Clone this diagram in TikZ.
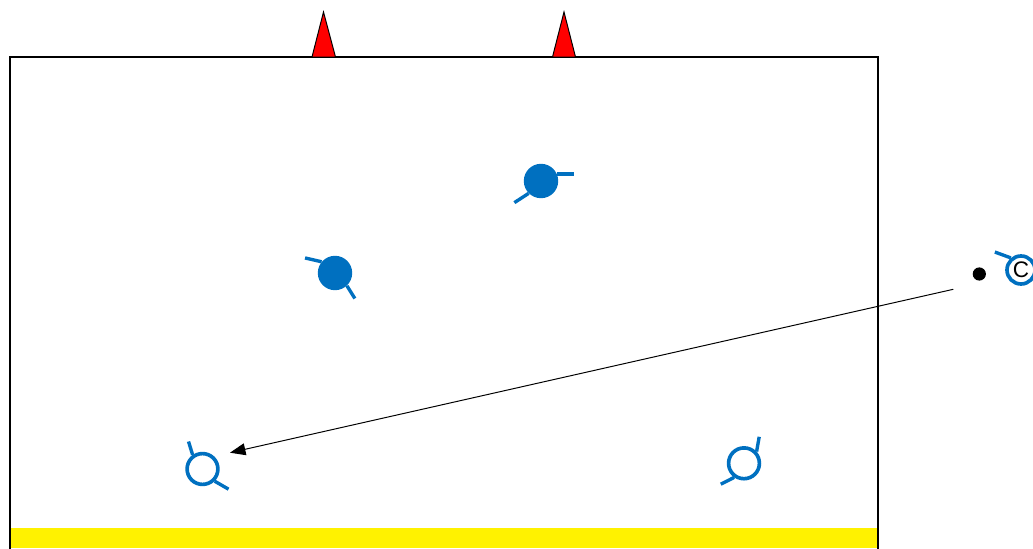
\documentclass[tikz,border=0pt]{standalone}
\usepackage{fontspec}
\setmainfont{Liberation Sans}
\usetikzlibrary{arrows.meta}
\definecolor{plblue}{HTML}{0070C0}
\tikzset{
  plfull/.style={circle, fill=plblue, minimum size=0.86cm, inner sep=0pt},
  plopen/.style={circle, draw=plblue, line width=2.6pt, minimum size=0.77cm, inner sep=0pt},
  stick/.style={draw=plblue, line width=2.4pt},
  cone/.style={draw=black, fill=red, line width=0.7pt},
  field/.style={draw=black, line width=1.6pt},
  ballpt/.style={circle, fill=black, minimum size=0.33cm, inner sep=0pt},
  pass/.style={line width=0.7pt, -{Triangle[length=11pt, width=8.5pt]}}
}

\begin{document}
\begin{tikzpicture}[x=0.025cm, y=0.025cm]
  \useasboundingbox (0,0) rectangle (1033,548);
  \clip (0,0) rectangle (1033,548);

  % Pitch with goal line band
  \fill[yellow] (10,0) rectangle (878,20.3);
  \draw[field] (10,-20) rectangle (878,491);

  % Cones on the top line
  \draw[cone] (312,491) -- (323.5,536) -- (335.5,491) -- cycle;
  \draw[cone] (552.5,491) -- (564,536) -- (575.5,491) -- cycle;

  % Players (filled)
  \node[plfull] (pl1) at (541,367) {};
  \node[plfull] (pl2) at (335,275) {};

  % Players (open)
  \node[plopen] (pl3) at (202.5,79) {};
  \node[plopen] (pl4) at (744,84.7) {};
  \node[plopen, minimum size=0.7cm] (pl5) at (1021,278) {\fontsize{16}{18}\selectfont C};

  % Ball
  \node[ballpt] (ball) at (979.3,274) {};

  % Sticks
  \draw[stick] (pl1.24) -- ++(0:17);
  \draw[stick] (pl1.225) -- ++(213:17);
  \draw[stick] (pl2.140) -- ++(167:17);
  \draw[stick] (pl2.-47) -- ++(-58:15);
  \draw[stick] (pl3.125) -- ++(107:14);
  \draw[stick] (pl3.-45) -- ++(-30:16);
  \draw[stick] (pl4.43) -- ++(80:15);
  \draw[stick] (pl4.235) -- ++(207:15);
  \draw[stick] (pl5.130) -- ++(160:17);

  % Pass
  \coordinate (passA) at (953.3,258.7);
  \coordinate (passB) at (230,95.3);
  \draw[pass] (passA) -- (passB);
\end{tikzpicture}
\end{document}
